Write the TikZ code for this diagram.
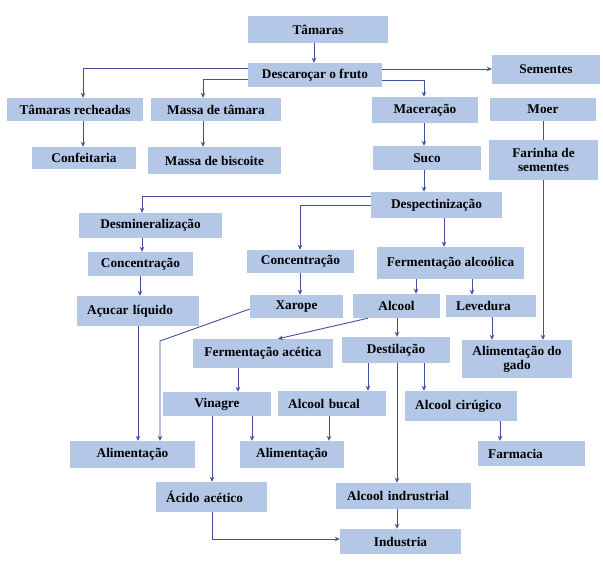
\documentclass[tikz,border=0pt]{standalone}
\usepackage{fontspec}
\setmainfont{Liberation Serif}
\usetikzlibrary{arrows.meta}
\definecolor{boxfill}{RGB}{180,199,231}
\definecolor{linecol}{RGB}{62,80,158}
\begin{document}
\begin{tikzpicture}[x=1pt,y=-1pt,
  box/.style={fill=boxfill, inner sep=0pt, align=center,
    font=\fontsize{13.3}{14}\selectfont\bfseries},
  lbox/.style={box, anchor=west, align=left},
  arr/.style={draw=linecol, line width=0.9pt, -{Stealth[length=5pt,width=4.5pt]}},
  ln/.style={draw=linecol, line width=0.9pt}]
\useasboundingbox (0,0) rectangle (603,569);
% boxes
\node[box, minimum width=140, minimum height=27] (tamaras) at (318,29.5) {Tâmaras};
\node[box, minimum width=134, minimum height=24] (desc) at (315,75) {Descaroçar o fruto};
\node[box, minimum width=108, minimum height=29] (sem) at (546,69.5) {Sementes};
\node[box, minimum width=136, minimum height=23] (recheadas) at (75,109.5) {Tâmaras recheadas};
\node[box, minimum width=130, minimum height=23] (massat) at (216,109.5) {Massa de tâmara};
\node[box, minimum width=106, minimum height=26] (macer) at (425,110) {Maceração};
\node[box, minimum width=106, minimum height=23] (moer) at (543,109.5) {Moer};
\node[box, minimum width=104, minimum height=22] (confeit) at (84,158) {Confeitaria};
\node[box, minimum width=133, minimum height=27] (biscoite) at (214.5,160.5) {Massa de biscoite};
\node[box, minimum width=108, minimum height=24] (suco) at (427,158) {Suco};
\node[box, minimum width=109, minimum height=40] (farinha) at (543.5,160) {Farinha de\\sementes};
\node[box, minimum width=131, minimum height=26] (despect) at (436.5,205) {Despectinização};
\node[box, minimum width=143, minimum height=25] (desmin) at (150.5,225.5) {Desmineralização};
\node[box, minimum width=105, minimum height=24] (conc1) at (140.5,264) {Concentração};
\node[box, minimum width=107, minimum height=23] (conc2) at (300.5,261.5) {Concentração};
\node[box, minimum width=147, minimum height=32] (fermalc) at (450.5,263) {Fermentação alcoólica};
\node[lbox, text width=102, inner xsep=10, minimum height=30] (acucar) at (77,311) {Açucar líquido};
\node[box, minimum width=93, minimum height=23] (xarope) at (296.5,306.5) {Xarope};
\node[box, minimum width=87, minimum height=24] (alcool) at (396.5,306) {Alcool};
\node[lbox, text width=70, inner xsep=10, minimum height=22] (levedura) at (446,306) {Levedura};
\node[box, minimum width=140, minimum height=29] (fermacet) at (263,353.5) {Fermentação acética};
\node[box, minimum width=108, minimum height=26] (destil) at (396,350) {Destilação};
\node[box, minimum width=110, minimum height=38] (gado) at (517,359) {Alimentação do\\gado};
\node[box, minimum width=108, minimum height=24] (vinagre) at (217,404) {Vinagre};
\node[lbox, text width=88, inner xsep=10, minimum height=25] (bucal) at (278,403.5) {Alcool bucal};
\node[lbox, text width=92, inner xsep=10, minimum height=30] (cirurgico) at (405,406) {Alcool cirúgico};
\node[box, minimum width=125, minimum height=27] (alim1) at (132.5,454.5) {Alimentação};
\node[box, minimum width=104, minimum height=27] (alim2) at (292,454.5) {Alimentação};
\node[lbox, text width=87, inner xsep=10, minimum height=25] (farmacia) at (478,453.5) {Farmacia};
\node[lbox, text width=91, inner xsep=10, minimum height=30] (acido) at (156,497) {Ácido acético};
\node[lbox, text width=113, inner xsep=11, minimum height=26] (indrustrial) at (336,496) {Alcool indrustrial};
\node[box, minimum width=121, minimum height=25] (industria) at (400.5,541.5) {Industria};
% connectors
\draw[arr] (tamaras.south -| 314,0) -- (desc.north -| 314,0);
\draw[arr] (desc.west |- 0,68) -| (recheadas.north -| 83,0);
\draw[arr] (desc.west |- 0,79) -| (massat.north -| 203,0);
\draw[arr] (desc.east |- 0,69) -- (sem.west |- 0,69);
\draw[arr] (desc.east |- 0,80) -| (macer.north -| 424,0);
\draw[arr] (recheadas.south -| 83,0) -- (confeit.north -| 83,0);
\draw[arr] (massat.south -| 203,0) -- (biscoite.north -| 203,0);
\draw[arr] (macer.south -| 424,0) -- (suco.north -| 424,0);
\draw[arr] (suco.south -| 424,0) -- (despect.north -| 424,0);
\draw[ln] (moer.south -| 543,0) -- (farinha.north -| 543,0);
\draw[arr] (farinha.south -| 543,0) -- (gado.north -| 543,0);
\draw[arr] (despect.west |- 0,196) -| (desmin.north -| 142,0);
\draw[arr] (despect.west |- 0,205) -| (conc2.north -| 300,0);
\draw[arr] (despect.south -| 444,0) -- (fermalc.north -| 444,0);
\draw[arr] (desmin.south -| 142,0) -- (conc1.north -| 142,0);
\draw[arr] (conc1.south -| 140,0) -- (acucar.north -| 140,0);
\draw[arr] (acucar.south -| 138,0) -- (alim1.north -| 138,0);
\draw[arr] (xarope.west |- 0,309) -- (160,341) -- (alim1.north -| 160,0);
\draw[arr] (conc2.south -| 300,0) -- (xarope.north -| 300,0);
\draw[arr] (fermalc.south -| 416,0) -- (alcool.north -| 416,0);
\draw[arr] (fermalc.south -| 472,0) -- (levedura.north -| 472,0);
\draw[arr] (levedura.south -| 492,0) -- (gado.north -| 492,0);
\draw[arr] (alcool.south -| 368,0) -- (fermacet.north -| 278,0);
\draw[arr] (alcool.south -| 397,0) -- (destil.north -| 397,0);
\draw[arr] (destil.south -| 368,0) -- (bucal.north -| 368,0);
\draw[arr] (destil.south -| 397,0) -- (indrustrial.north -| 397,0);
\draw[arr] (destil.south -| 424,0) -- (cirurgico.north -| 424,0);
\draw[arr] (fermacet.south -| 238,0) -- (vinagre.north -| 238,0);
\draw[arr] (vinagre.south -| 252,0) -- (alim2.north -| 252,0);
\draw[arr] (vinagre.south -| 212,0) -- (acido.north -| 212,0);
\draw[arr] (bucal.south -| 329,0) -- (alim2.north -| 329,0);
\draw[arr] (cirurgico.south -| 500,0) -- (farmacia.north -| 500,0);
\draw[arr] (acido.south -| 212,0) |- (industria.west |- 0,539);
\draw[arr] (indrustrial.south -| 397,0) -- (industria.north -| 397,0);
\end{tikzpicture}
\end{document}
